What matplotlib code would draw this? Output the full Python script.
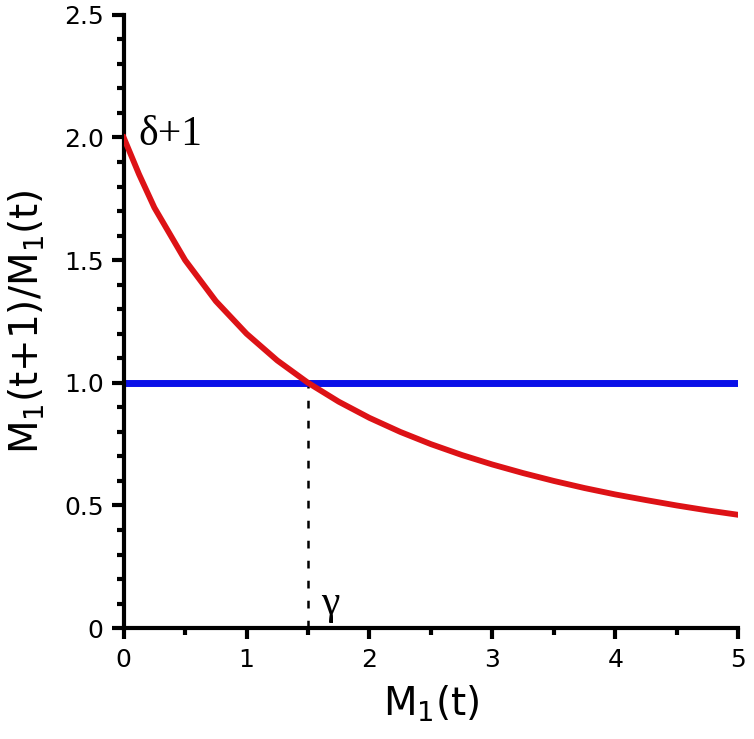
import numpy as np
import matplotlib.pyplot as plt
from matplotlib.ticker import MultipleLocator

# values
m1 = [0, 0.125, 0.25, 0.5, 0.75, 1.0, 1.25, 1.5, 1.75, 2.0, 2.25, 2.5, 2.75,
      3.0, 3.25, 3.5, 3.75, 4.0, 4.25, 4.5, 4.75, 5.0]
ratio = [2.0, 1.85, 1.714, 1.5, 1.333, 1.2, 1.091, 1.0, 0.923, 0.857, 0.8, 0.75, 0.706,
         0.667, 0.632, 0.6, 0.571, 0.545, 0.522, 0.5, 0.48, 0.462]
fixed_x = [0, 5]
fixed_y = [1.0, 1.0]
gamma = 1.5

xticks = [0, 1, 2, 3, 4, 5]
yticks = [0, 0.5, 1.0, 1.5, 2.0, 2.5]
ytick_labels = ['0', '0.5', '1.0', '1.5', '2.0', '2.5']

fig = plt.figure(figsize=(7.54, 7.39), dpi=100)
ax = fig.add_axes([0.164, 0.150, 0.815, 0.830])

ax.plot(fixed_x, fixed_y, color='#0a10e8', lw=5, solid_capstyle='butt', zorder=2)
ax.plot(m1, ratio, color='#dd1216', lw=4.2, zorder=3, solid_joinstyle='round')
ax.plot([gamma, gamma], [0, 1.0], color='black', lw=1.8, ls=(0, (3.1, 4.9)), zorder=1)

ax.text(0.12, 2.01, 'δ+1', fontsize=30, family='Liberation Serif', va='center', ha='left')
ax.text(1.61, 0.10, 'γ', fontsize=30, family='Liberation Serif', va='center', ha='left')

ax.set_xlim(0, 5)
ax.set_ylim(0, 2.5)
for s in ['top', 'right']:
    ax.spines[s].set_visible(False)
for s in ['left', 'bottom']:
    ax.spines[s].set_linewidth(3)

ax.set_xticks(xticks)
ax.set_yticks(yticks)
ax.set_yticklabels(ytick_labels)
ax.xaxis.set_minor_locator(MultipleLocator(0.5))
ax.yaxis.set_minor_locator(MultipleLocator(0.1))
ax.tick_params(axis='x', which='major', direction='out', length=8, width=3, labelsize=18, pad=6)
ax.tick_params(axis='x', which='minor', direction='out', length=5, width=3)
ax.tick_params(axis='y', which='major', direction='out', length=8.5, width=3, labelsize=18, pad=6)
ax.tick_params(axis='y', which='minor', direction='out', length=5, width=3)

ax.set_xlabel('M$_1$(t)', fontsize=28, labelpad=9)
ax.set_ylabel('M$_1$(t+1)/M$_1$(t)', fontsize=28, labelpad=12)

plt.savefig('out.png', dpi=100)
